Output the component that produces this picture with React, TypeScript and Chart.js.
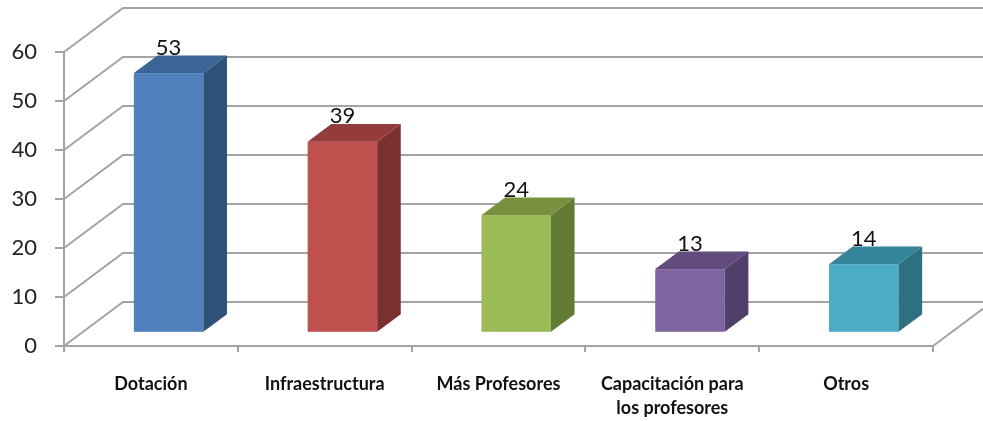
import React, { useEffect, useRef } from "react";
import { Chart, registerables } from "chart.js";

Chart.register(...registerables);

const categories: (string | string[])[] = [
  "Dotación",
  "Infraestructura",
  "Más Profesores",
  ["Capacitación para", "los profesores"],
  "Otros",
];
const values = [53, 39, 24, 13, 14];
const yTicks = [0, 10, 20, 30, 40, 50, 60];

const frontColors = ["#4F81BD", "#C0504D", "#9BBB59", "#8064A2", "#4BACC6"];
const topColors = ["#3C6494", "#943C3A", "#77913F", "#624C7E", "#36869B"];
const sideColors = ["#2F5077", "#7A302E", "#627A34", "#503F69", "#2E6F80"];

const GRID = "#a3a3a3";
const DEPTH_X = 59;
const DEPTH_Y = -44;
const BAR_FRONT = 0.3;
const BAR_BACK = 0.7;

const wallsPlugin = {
  id: "walls3d",
  beforeDatasetsDraw(chart: any) {
    const { ctx } = chart;
    const x = chart.scales.x;
    const y = chart.scales.y;
    ctx.save();
    ctx.beginPath();
    ctx.rect(0, 0, chart.width, chart.height);
    ctx.clip();
    ctx.strokeStyle = GRID;
    ctx.lineWidth = 2;
    ctx.beginPath();
    for (const v of yTicks) {
      const py = y.getPixelForValue(v);
      ctx.moveTo(x.left, py);
      ctx.lineTo(x.left + DEPTH_X, py + DEPTH_Y);
      ctx.lineTo(x.right + DEPTH_X, py + DEPTH_Y);
    }
    const by = y.getPixelForValue(0);
    ctx.moveTo(x.right, by);
    ctx.lineTo(x.right + DEPTH_X, by + DEPTH_Y);
    ctx.stroke();
    ctx.restore();
  },
  afterDatasetsDraw(chart: any) {
    const { ctx } = chart;
    const meta = chart.getDatasetMeta(0);
    const ox = DEPTH_X * BAR_FRONT;
    const oy = DEPTH_Y * BAR_FRONT;
    const sdx = DEPTH_X * (BAR_BACK - BAR_FRONT);
    const sdy = DEPTH_Y * (BAR_BACK - BAR_FRONT);
    ctx.save();
    meta.data.forEach((el: any, i: number) => {
      const p = el.getProps(["x", "y", "base", "width"], true);
      const xl = p.x - p.width / 2 + ox;
      const xr = p.x + p.width / 2 + ox;
      const yt = p.y + oy;
      const yb = p.base + oy;
      ctx.fillStyle = frontColors[i];
      ctx.fillRect(xl, yt, xr - xl, yb - yt);
      ctx.fillStyle = sideColors[i];
      ctx.beginPath();
      ctx.moveTo(xr, yt);
      ctx.lineTo(xr + sdx, yt + sdy);
      ctx.lineTo(xr + sdx, yb + sdy);
      ctx.lineTo(xr, yb);
      ctx.closePath();
      ctx.fill();
      ctx.fillStyle = topColors[i];
      ctx.beginPath();
      ctx.moveTo(xl, yt);
      ctx.lineTo(xl + sdx, yt + sdy);
      ctx.lineTo(xr + sdx, yt + sdy);
      ctx.lineTo(xr, yt);
      ctx.closePath();
      ctx.fill();
      ctx.fillStyle = "#111";
      ctx.font = "22px Lato, 'Open Sans', sans-serif";
      ctx.textAlign = "center";
      ctx.textBaseline = "alphabetic";
      ctx.fillText(String(values[i]), (xl + xr) / 2, yt + sdy - 1);
    });
    ctx.restore();
  },
};

export default function App() {
  const ref = useRef<HTMLCanvasElement | null>(null);
  useEffect(() => {
    if (!ref.current) return;
    const chart = new Chart(ref.current, {
      type: "bar",
      data: {
        labels: categories as any,
        datasets: [
          {
            data: values,
            backgroundColor: "rgba(0,0,0,0)",
            borderWidth: 0,
            categoryPercentage: 1,
            barPercentage: 0.4,
          },
        ],
      },
      options: {
        responsive: false,
        animation: false,
        layout: { padding: { left: 0, right: 50, top: 52, bottom: 0 } },
        plugins: {
          legend: { display: false },
          tooltip: { enabled: false },
          title: { display: false },
        },
        scales: {
          x: {
            afterFit: (s: any) => {
              s.height = 75;
            },
            grid: {
              display: true,
              drawOnChartArea: false,
              drawTicks: true,
              tickLength: 6,
              color: GRID,
              lineWidth: 2,
              offset: true,
            },
            border: { display: true, color: GRID, width: 2 },
            ticks: {
              color: "#111",
              padding: 20,
              maxRotation: 0,
              autoSkip: false,
              font: { family: "Lato, 'Open Sans', sans-serif", size: 18, weight: "bold", lineHeight: 1.35 },
            },
          },
          y: {
            min: 0,
            max: 60,
            afterFit: (s: any) => {
              s.width = 64;
            },
            afterBuildTicks: (s: any) => {
              s.ticks = yTicks.map((v) => ({ value: v }));
            },
            grid: {
              display: true,
              drawOnChartArea: false,
              drawTicks: true,
              tickLength: 9,
              color: GRID,
              lineWidth: 2,
            },
            border: { display: true, color: GRID, width: 2 },
            ticks: {
              color: "#222",
              padding: 18,
              font: { family: "Lato, 'Open Sans', sans-serif", size: 22 },
            },
          },
        },
      },
      plugins: [wallsPlugin],
    });
    return () => chart.destroy();
  }, []);
  return (
    <div style={{ position: "absolute", left: 0, top: 0, width: 983, height: 421, background: "#fff" }}>
      <canvas ref={ref} width={983} height={421} style={{ display: "block" }} />
    </div>
  );
}
